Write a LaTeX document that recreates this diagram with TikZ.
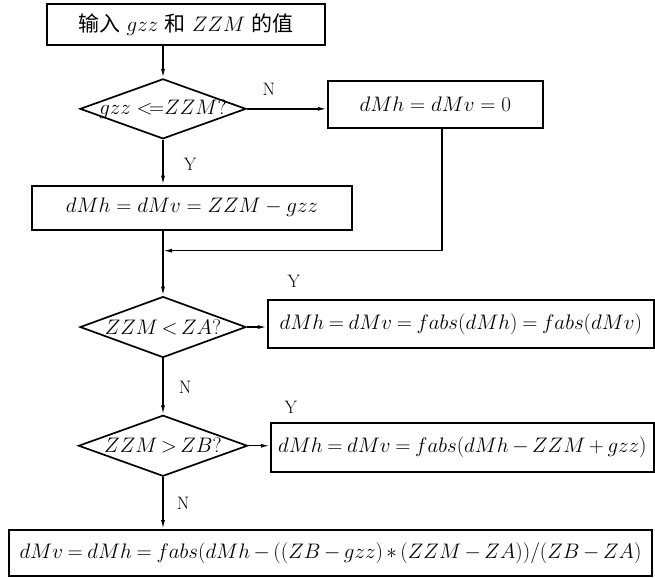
\RequirePackage{fix-cm}
\documentclass[tikz,border=0pt]{standalone}
\usepackage{amsmath,amssymb}
\usepackage{fontspec}
\usepackage{tikz}
\usetikzlibrary{arrows.meta, positioning, shapes.geometric, calc}
\newfontfamily\cjk{Noto Sans CJK SC}

\begin{document}
\begin{tikzpicture}[
    box/.style={
      rectangle,
      draw=black,
      line width=2pt,
      align=center,
      inner sep=2pt,
      font=\fontsize{21}{25}\selectfont
    },
    decision/.style={
      diamond,
      draw=black,
      line width=1.7pt,
      inner sep=0pt,
      font=\fontsize{21}{25}\selectfont
    },
    tag/.style={font=\fontsize{18}{20}\selectfont, inner sep=0pt},
    arrow/.style={-{Latex[length=9pt, width=4pt]}, line width=1.4pt}
]
\node[box, minimum width=278pt, minimum height=41pt] (in) {{\cjk 输入} $gzz$ {\cjk 和} $ZZM$ {\cjk 的值}};
\node[decision, minimum width=166pt, minimum height=60pt, below=32pt of in, xshift=-23pt] (d1) {\makebox[0pt]{$gzz\;{<}\!{=}ZZM?$}};
\node[box, minimum width=215pt, minimum height=47pt, right=80pt of d1, yshift=4.5pt] (zero) {$dMh=dMv=0$};
\node[box, minimum width=320pt, minimum height=44pt, below=45pt of d1, xshift=29pt] (diff) {$dMh=dMv=ZZM-gzz$};
\node[decision, minimum width=166pt, minimum height=61pt, below=65pt of diff, xshift=-29pt] (d2) {\makebox[0pt]{$ZZM\,{<}\,ZA?$}};
\node[box, minimum width=386pt, minimum height=48pt, right=20pt of d2, yshift=3pt] (absa) {$dMh\:{=}\:dMv\:{=}\:fabs(dMh)\:{=}\:fabs(dMv)$};
\node[decision, minimum width=169pt, minimum height=61pt, below=56pt of d2] (d3) {\makebox[0pt]{$ZZM\,{>}\,ZB?$}};
\node[box, minimum width=383pt, minimum height=49pt, right=21.5pt of d3, yshift=-1.5pt] (absb) {$dMh\:{=}\:dMv\:{=}\:fabs(dMh\,{-}\,ZZM\,{+}\,gzz)$};
\node[box, minimum width=643pt, minimum height=46pt, below=52pt of d3, xshift=167.5pt] (fin) {$dMv\:{=}\:dMh\:{=}\:fabs(dMh\,{-}\,((ZB\,{-}\,gzz)\,{\ast}\,(ZZM\,{-}\,ZA))/(ZB\,{-}\,ZA)$};
\coordinate (j) at ($(d2.north)+(0,45pt)$);
\useasboundingbox (-186pt,24.5pt) rectangle (469pt,-544.5pt);

\draw[arrow] (in.south -| d1.north) -- (d1.north);
\draw[arrow] (d1.east) -- node[tag, pos=.275, yshift=19pt] {N} (d1.east -| zero.west);
\draw[arrow] (d1.south) -- node[tag, pos=.55, xshift=27pt] {Y} (d1.south |- diff.north);
\draw[arrow] ([xshift=6.5pt]zero.south) |- (j);
\draw[arrow] (diff.south -| d2.north) -- (d2.north);
\draw[arrow] (d2.east) -- node[tag, pos=1, xshift=27pt, yshift=46pt] {Y} (d2.east -| absa.west);
\draw[arrow] (d2.south) -- node[tag, pos=.52, xshift=22pt] {N} (d3.north);
\draw[arrow] (d3.east) -- node[tag, pos=1, xshift=21pt, yshift=38pt] {Y} (d3.east -| absb.west);
\draw[arrow] (d3.south) -- node[tag, pos=.5, xshift=20pt] {N} (d3.south |- fin.north);
\end{tikzpicture}
\end{document}
